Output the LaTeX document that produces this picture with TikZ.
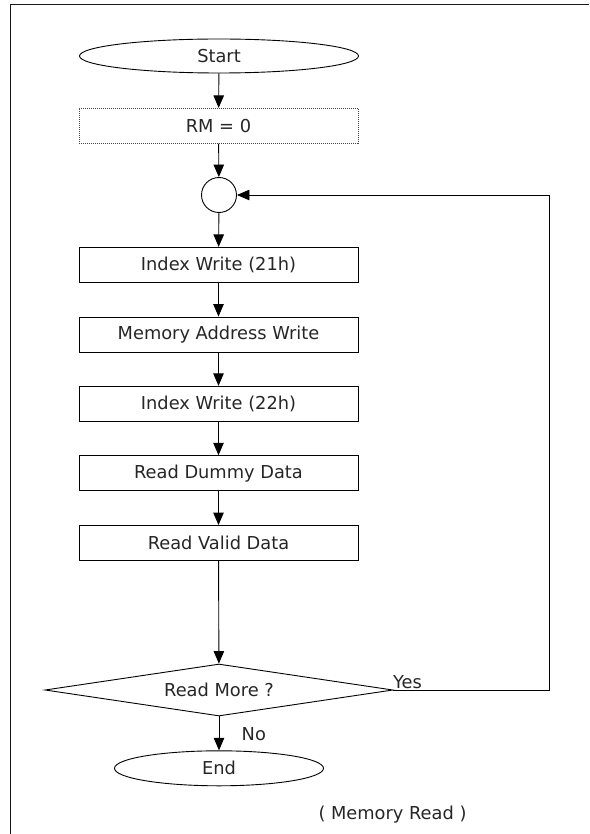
\documentclass[tikz,border=0pt]{standalone}
\usepackage{fontspec}
\setmainfont{DejaVu Sans}
\usetikzlibrary{shapes.geometric,arrows.meta}
\begin{document}
\begin{tikzpicture}[x=1pt,y=-1pt,
  every node/.style={font=\fontsize{17.8}{20}\selectfont, text=black!85, inner sep=0pt},
  line/.style={line width=0.9pt, draw=black},
  arr/.style={line, -{Triangle[length=12.5pt,width=10.5pt]}},
  stepbox/.style={rectangle, line, minimum width=279pt, minimum height=35pt},
  dotbox/.style={rectangle, draw=black!75, line width=0.9pt, dash pattern=on 1pt off 1pt, minimum width=279pt, minimum height=35pt},
  term/.style={ellipse, line},
  junc/.style={circle, line, minimum size=35pt},
  decide/.style={diamond, line, aspect=6.7, minimum width=348pt, minimum height=52pt},
  lbl/.style={inner sep=0pt}
]
\useasboundingbox (0,0) rectangle (589,834);
% frame
\draw[line width=1.3pt, draw=black!90] (10.5,834) -- (10.5,4.5) -- (589,4.5);

\node[term, minimum width=279pt, minimum height=34pt] (start) at (219,56) {Start};
\node[dotbox] (rm) at (218.5,125.8) {RM = 0};
\node[junc] (circ) at (219,195) {};
\node[stepbox] (b1) at (218.5,264.8) {Index Write (21h)};
\node[stepbox] (b2) at (218.5,334.5) {Memory Address Write};
\node[stepbox] (b3) at (218.5,403.8) {Index Write (22h)};
\node[stepbox] (b4) at (218.5,473.2) {Read Dummy Data};
\node[stepbox] (b5) at (218.5,543) {Read Valid Data};
\node[decide] (dec) at (219,690) {Read More ?};
\node[term, minimum width=209pt, minimum height=35pt] (end) at (219,768.3) {End};
\coordinate (lp) at (549,690);

\draw[arr] (start) -- (rm);
\draw[arr] (rm) -- (circ);
\draw[arr] (circ) -- (b1);
\draw[arr] (b1) -- (b2);
\draw[arr] (b2) -- (b3);
\draw[arr] (b3) -- (b4);
\draw[arr] (b4) -- (b5);
\draw[arr] (b5) -- (dec);
\draw[arr] (dec) -- (end);
\draw[arr] (dec.east) -- (lp) |- (circ.east);

\node[lbl, anchor=base west] (yes) at (393,688) {Yes};
\node[lbl, anchor=base west] (no) at (241.5,740) {No};
\node[lbl, anchor=base] (cap) at (392.5,819) {( Memory Read )};
\end{tikzpicture}
\end{document}
